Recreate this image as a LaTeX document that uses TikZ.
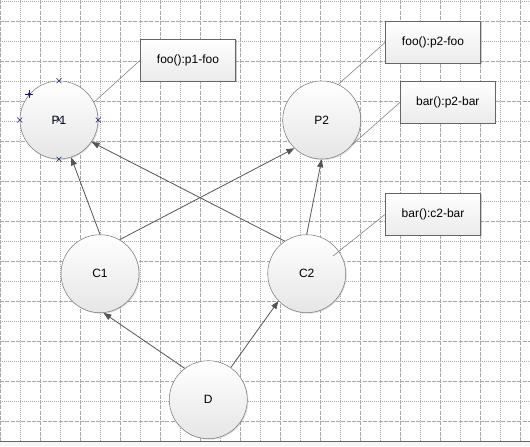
\documentclass[tikz,border=0pt]{standalone}
\usepackage{fontspec}
\setmainfont{Liberation Sans}
\usepackage{tikz}
\usetikzlibrary{arrows.meta,shadows}
\definecolor{gridgray}{HTML}{A8A8A8}
\definecolor{linegray}{HTML}{7A7A7A}
\definecolor{arrowgray}{HTML}{555555}
\definecolor{selblue}{HTML}{1C1C70}

\begin{document}
\begin{tikzpicture}[x=0.75pt, y=-0.75pt,
    cls/.style={circle, draw=linegray, minimum size=58.5pt, inner sep=0pt,
      top color=white, bottom color=black!10,
      drop shadow={shadow xshift=0.8pt, shadow yshift=-0.8pt, opacity=0.25},
      font=\fontsize{9}{11}\selectfont},
    meth/.style={rectangle, draw=black!60, minimum width=71.25pt, minimum height=31.5pt,
      top color=white, bottom color=black!8,
      drop shadow={shadow xshift=0.8pt, shadow yshift=-0.8pt, opacity=0.4},
      font=\fontsize{9}{11}\selectfont},
    inh/.style={-{Triangle[length=6pt,width=4.5pt]}, arrowgray, line width=0.6pt},
    note/.style={linegray, line width=0.4pt}]
        \useasboundingbox (0,0) rectangle (530,446);

        % grid
        \foreach \x in {0,40,...,520}
          \draw[gridgray, line width=0.6pt, dash pattern=on 3pt off 1pt] (\x,0) -- (\x,441);
        \foreach \x in {20,60,...,500}
          \draw[gridgray, line width=0.6pt, dash pattern=on 0.75pt off 0.75pt] (\x,0) -- (\x,441);
        \foreach \k in {0,...,10}
          \draw[gridgray, line width=0.6pt, dash pattern=on 3pt off 1pt] (0,{21.7+40*\k}) -- (530,{21.7+40*\k});
        \foreach \k in {0,...,10}
          \draw[gridgray, line width=0.6pt, dash pattern=on 0.75pt off 0.75pt] (0,{1.7+40*\k}) -- (530,{1.7+40*\k});
        \fill[black!4] (0,441) rectangle (530,446);
        \draw[black!60, line width=1.2pt] (0,441.5) -- (530,441.5);

        % classes
        \node[cls](P1) at (59,  120)   {P1};
        \node[cls](P2) at (321.7, 120) {P2};
        \node[cls](C1) at (100, 273.7) {C1};
        \node[cls](C2) at (306.7, 273.7) {C2};
        \node[cls](D)  at (208.3, 399.7) {D};

        % methods
        \node[meth](p1foo) at (188, 60.2)    {foo():p1-foo};
        \node[meth](p2foo) at (433, 42.3)    {foo():p2-foo};
        \node[meth](p2bar) at (447.8, 102.3) {bar():p2-bar};
        \node[meth](c2bar) at (433, 214.3)   {bar():c2-bar};
        \coordinate (c2bar-in) at (333, 256);

        \draw[inh] (C1.90)  -- (P1.-72);
        \draw[inh] (C2.124) -- (P1.-34);
        \draw[inh] (C1.60)  -- (P2.226);
        \draw[inh] (C2.90)  -- (P2.-90);
        \draw[inh] (D.127)  -- (C1.-85);
        \draw[inh] (D.55)   -- (C2.-136);

        \draw[note] (p1foo.west) -- (P1.27);
        \draw[note] (p2foo.west) -- (P2.65);
        \draw[note] (p2bar.west) -- (P2.-39);
        \draw[note] (c2bar.west) -- (c2bar-in);

        % selection handles on P1
        \foreach \a in {north,south,east,west,center}
          \draw[selblue, line width=0.4pt]
            ([shift={(-2.5,-2.5)}]P1.\a) -- ([shift={(2.5,2.5)}]P1.\a)
            ([shift={(-2.5,2.5)}]P1.\a) -- ([shift={(2.5,-2.5)}]P1.\a);
        \coordinate (rot) at (P1.139);
        \draw[selblue, line width=0.5pt] ([shift={(-4,0)}]rot) -- ([shift={(4,0)}]rot)
                                         ([shift={(0,-4)}]rot) -- ([shift={(0,4)}]rot);
        \fill[selblue] ([shift={(-2,0)}]rot) -- ([shift={(0,-2)}]rot) -- ([shift={(2,0)}]rot) -- ([shift={(0,2)}]rot) -- cycle;
      \end{tikzpicture}
\end{document}
